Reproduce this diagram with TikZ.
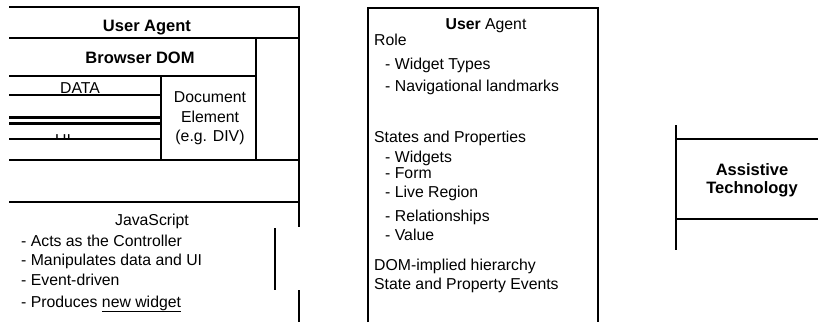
\documentclass[tikz,border=0pt]{standalone}
\usepackage{fontspec}
\setmainfont{Liberation Sans}
\usetikzlibrary{positioning}

\tikzset{
    frame/.style={line width=2pt},
    heavy/.style={line width=3pt},
    boxline/.style={line width=2.6pt},
    txt/.style={inner sep=0pt, font=\fontsize{15.8}{18}\selectfont},
    head/.style={inner sep=0pt, font=\fontsize{16.5}{19}\selectfont\bfseries},
}

\begin{document}
\begin{tikzpicture}[x=1pt, y=-1pt]
    \useasboundingbox (0,0) rectangle (818,322);
    % left part: the browser
    \begin{scope}
        \node[txt, anchor=base] (ui) at (63,145) {UI};
        \fill[white] (5,139) rectangle (161,155);
        \draw[frame] (9,7) -- (299,7) -- (299,227);
        \draw[frame] (9,38) -- (299,38);
        \draw[frame] (9,76) -- (256,76);
        \draw[frame] (256,38) -- (256,160);
        \draw[frame] (161,76) -- (161,160);
        \draw[frame] (9,95) -- (161,95);
        \draw[heavy] (9,117) -- (161,117);
        \draw[heavy] (9,123) -- (161,123);
        \draw[frame] (9,139) -- (161,139);
        \draw[frame] (9,160) -- (299,160);
        \draw[frame] (9,202) -- (299,202);
        \draw[frame] (275,228) -- (275,290);
        \draw[frame] (299,290) -- (299,322);
        \node[head, anchor=base] (ua) at (147,31) {User Agent};
        \node[head, anchor=base] (dom) at (140,63) {Browser DOM};
        \node[txt, anchor=base] (data) at (80,93) {DATA};
        \node[txt, anchor=base] (doc) at (210,102) {Document};
        \node[txt, anchor=base] (elem) at (210,122) {Element};
        \node[txt, anchor=base] (div) at (210,141) {(e.g. DIV)};
        \node[txt, anchor=base] (js) at (152,225) {JavaScript};
        \node[txt, anchor=base west] (ctl) at (21,246) {- Acts as the Controller};
        \node[txt, anchor=base west] (mani) at (21,265) {- Manipulates data and UI};
        \node[txt, anchor=base west] (evt) at (21,285) {- Event-driven};
        \node[txt, anchor=base west] (prod) at (21,307) {- Produces \underline{new widget}};
    \end{scope}
    % middle part: what the user agent exposes
    \begin{scope}[xshift=368pt]
        \draw[boxline] (0,322) -- (0,8) -- (230,8) -- (230,322);
        \node[txt, anchor=base] (ua2) at (118,29) {\textbf{User} Agent};
        \node[txt, anchor=base west] (role) at (6,45) {Role};
        \node[txt, anchor=base west] (wt) at (17,69) {- Widget Types};
        \node[txt, anchor=base west] (nav) at (17,91) {- Navigational landmarks};
        \node[txt, anchor=base west] (sp) at (6,142) {States and Properties};
        \node[txt, anchor=base west] (wid) at (17,162) {- Widgets};
        \node[txt, anchor=base west] (form) at (17,178) {- Form};
        \node[txt, anchor=base west] (live) at (17,197) {- Live Region};
        \node[txt, anchor=base west] (rel) at (17,221) {- Relationships};
        \node[txt, anchor=base west] (val) at (17,240) {- Value};
        \node[txt, anchor=base west] (hier) at (6,270) {DOM-implied hierarchy};
        \node[txt, anchor=base west] (evts) at (6,289) {State and Property Events};
    \end{scope}
    % right part: assistive technology
    \begin{scope}[xshift=676pt]
        \draw[frame] (0,125) -- (0,250);
        \draw[frame] (0,139) -- (142,139);
        \draw[frame] (0,219) -- (142,219);
        \node[head, anchor=base] (at1) at (76,175) {Assistive};
        \node[head, anchor=base] (at2) at (76,193) {Technology};
    \end{scope}
\end{tikzpicture}
\end{document}
